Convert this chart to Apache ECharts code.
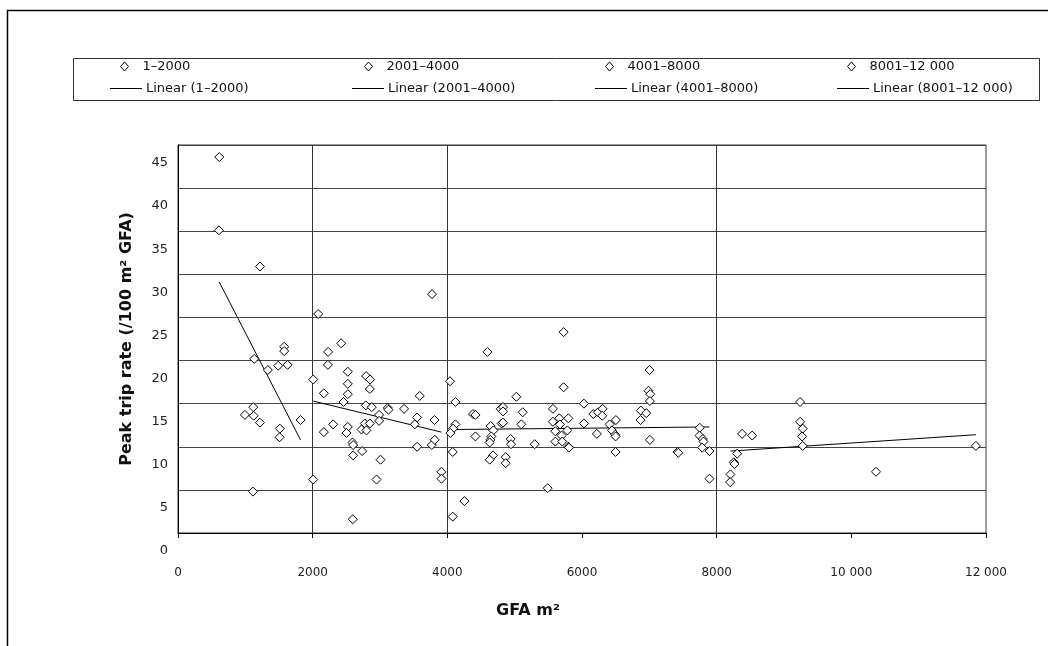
<!DOCTYPE html>
<html>
<head>
<meta charset="utf-8">
<script src="https://cdn.jsdelivr.net/npm/echarts@6/dist/echarts.min.js"></script>
<style>
html,body{margin:0;padding:0;background:#fff;}
#chart{width:1048px;height:646px;}
</style>
</head>
<body>
<div id="chart"></div>
<script>
// ---- data ----
const seriesNames = ['1–2000', '2001–4000', '4001–8000', '8001–12 000'];
const trendNames = ['Linear (1–2000)', 'Linear (2001–4000)', 'Linear (4001–8000)', 'Linear (8001–12 000)'];
const xTickLabels = ['0', '2000', '4000', '6000', '8000', '10 000', '12 000'];
const yTickLabels = ['0', '5', '10', '15', '20', '25', '30', '35', '40', '45'];
const verticalGridX = [2000, 4000, 8000];

const group1 = [[613,45.6],[608,37.1],[1217,32.9],[1132,22.2],[1577,23.6],[1577,23.1],[1335,20.9],[1488,21.4],[1627,21.5],[1117,16.6],[994,15.7],[1123,15.6],[1217,14.8],[1513,14.1],[1509,13.1],[1820,15.1],[1113,6.8]];
const group2 = [[2082,27.4],[3773,29.7],[2423,24.0],[2230,23.0],[2226,21.5],[2522,20.7],[2008,19.8],[2794,20.2],[2853,19.8],[2522,19.3],[2166,18.2],[2522,18.1],[2849,18.7],[3590,17.9],[2458,17.2],[2789,16.8],[2878,16.6],[3116,16.5],[3126,16.3],[3358,16.4],[2987,15.7],[2987,15.0],[3551,15.4],[3809,15.1],[3516,14.6],[2304,14.6],[2166,13.7],[2522,14.3],[2503,13.6],[2775,14.7],[2849,14.7],[2725,14.0],[2799,13.9],[2592,12.5],[2601,12.2],[2735,11.5],[2601,11.0],[3007,10.5],[3551,12.0],[3769,12.2],[3813,12.8],[2008,8.2],[2948,8.2],[3913,9.1],[3913,8.3],[2596,3.6]];
const group3 = [[4040,19.6],[4120,17.2],[4120,14.6],[4085,14.1],[4045,13.6],[4381,15.8],[4417,15.7],[4417,13.2],[4080,11.4],[4254,5.7],[4080,3.9],[4595,23.0],[4644,14.4],[4684,13.9],[4654,13.2],[4639,12.8],[4629,12.5],[4678,11.0],[4629,10.5],[4792,16.4],[4827,16.6],[4827,16.1],[4807,14.7],[4827,14.8],[4941,12.9],[4946,12.3],[4867,10.8],[4867,10.1],[5025,17.8],[5119,16.0],[5099,14.6],[5297,12.3],[5490,7.2],[5727,25.3],[5727,18.9],[5568,16.4],[5663,15.3],[5797,15.3],[5568,14.9],[5673,14.6],[5604,13.8],[5782,13.9],[5697,13.3],[5604,12.6],[5707,12.6],[5797,12.0],[5806,11.9],[6029,17.0],[6029,14.7],[6168,15.8],[6237,16.0],[6306,16.4],[6301,15.6],[6221,13.5],[6410,14.6],[6503,15.1],[6444,13.9],[6494,13.4],[6499,13.2],[6499,11.4],[7003,20.9],[6988,18.5],[7013,18.1],[7008,17.3],[6874,16.2],[6954,15.9],[6869,15.1],[7008,12.8],[7419,11.4],[7430,11.3],[7749,14.2],[7745,13.3],[7794,12.9],[7804,12.6],[7785,11.9],[7893,11.5],[7893,8.3]];
const group4 = [[8378,13.5],[8527,13.3],[8304,11.2],[8254,10.2],[8264,10.0],[8205,8.8],[8200,7.9],[9239,17.2],[9239,14.9],[9278,14.1],[9268,13.2],[9278,12.1],[10366,9.1],[11850,12.1]];

const trend1 = [[613,31.1],[1820,12.8]];
const trend2 = [[2008,17.3],[3913,13.7]];
const trend3 = [[4061,14.0],[7893,14.3]];
const trend4 = [[8205,11.5],[11850,13.4]];

// ---- chart ----
const FONT = 'Verdana, "DejaVu Sans", sans-serif';
const groups = [group1, group2, group3, group4];
const trends = [trend1, trend2, trend3, trend4];
const chart = echarts.init(document.getElementById('chart'), null, {renderer: 'canvas'});

const series = [];
groups.forEach((g, i) => {
  series.push({
    name: seriesNames[i], type: 'scatter', data: g,
    symbol: 'diamond', symbolSize: [9, 9],
    itemStyle: {color: '#ffffff', borderColor: '#000000', borderWidth: 1, opacity: 1},
    emphasis: {disabled: true}, z: 5
  });
});
trends.forEach((t, i) => {
  series.push({
    name: trendNames[i], type: 'line', data: t, symbol: 'none',
    lineStyle: {color: '#000000', width: 1}, itemStyle: {color: '#000000'},
    emphasis: {disabled: true}, z: 4
  });
});
series.push({
  type: 'line', data: [], silent: true,
  markLine: {
    silent: true, symbol: 'none', animation: false,
    label: {show: false},
    lineStyle: {color: '#333333', width: 1, type: 'solid'},
    data: verticalGridX.map(x => ({xAxis: x}))
  }
});

const rowScatterLeft = [120, 364, 605, 847];
const rowLineLeft = [110, 352, 595, 837];
const legends = [];
seriesNames.forEach((n, i) => {
  legends.push({
    data: [n], left: rowScatterLeft[i], top: 60, padding: 0,
    itemWidth: 8, itemHeight: 9, selectedMode: false,
    itemStyle: {color: '#ffffff', borderColor: '#000', borderWidth: 1},
    textStyle: {fontFamily: FONT, fontSize: 13, color: '#111', padding: [0, 0, 0, 9]}
  });
});
trendNames.forEach((n, i) => {
  legends.push({
    data: [{name: n, icon: 'rect'}], left: rowLineLeft[i], top: 82, padding: 0,
    itemWidth: 32, itemHeight: 1, itemGap: 0, selectedMode: false,
    itemStyle: {color: '#000'},
    textStyle: {fontFamily: FONT, fontSize: 13, color: '#111', padding: [0, 0, 0, -1]}
  });
});

chart.setOption({
  animation: false,
  backgroundColor: '#ffffff',
  legend: legends,
  graphic: [
    {type: 'polyline', shape: {points: [[7.5, 646], [7.5, 10.5], [1048, 10.5]]}, style: {stroke: '#000', lineWidth: 1.5, fill: null}, silent: true},
    {type: 'rect', shape: {x: 73.5, y: 58.5, width: 966, height: 42}, style: {stroke: '#333', lineWidth: 1, fill: null}, silent: true, z: -1}
  ],
  grid: [
    {left: 178, right: 62, top: 145, bottom: 113, show: true, borderColor: '#333', borderWidth: 1, backgroundColor: 'transparent'},
    // label-only grid: the tick labels of the reference sit ~2 units below the gridlines
    {left: 178, right: 62, top: 163, bottom: 95, show: false}
  ],
  xAxis: [{
    gridIndex: 0,
    type: 'value', min: 0, max: 12000, interval: 2000,
    name: 'GFA m²', nameLocation: 'middle', nameGap: 70,
    nameTextStyle: {fontFamily: FONT, fontSize: 16, fontWeight: 'bold', color: '#111', padding: [0, 108, 0, 0]},
    axisLine: {show: true, lineStyle: {color: '#000', width: 1}},
    axisTick: {show: true, length: 5, lineStyle: {color: '#000'}},
    axisLabel: {margin: 34, fontFamily: FONT, fontSize: 12, color: '#222', formatter: v => xTickLabels[Math.round(v / 2000)]},
    splitLine: {show: false}
  }, {
    gridIndex: 1, type: 'value', min: 0, max: 12000, show: false
  }],
  yAxis: [{
    gridIndex: 0,
    type: 'value', min: 2, max: 47, interval: 5,
    name: 'Peak trip rate (/100 m² GFA)', nameLocation: 'middle', nameRotate: 90, nameGap: 43,
    nameTextStyle: {fontFamily: FONT, fontSize: 16, fontWeight: 'bold', color: '#111'},
    axisLine: {show: true, lineStyle: {color: '#000', width: 1}},
    axisTick: {show: false},
    axisLabel: {show: false},
    splitLine: {show: true, lineStyle: {color: '#444', width: 1}}
  }, {
    gridIndex: 1,
    type: 'value', min: 0, max: 45, interval: 5,
    axisLine: {show: false}, axisTick: {show: false}, splitLine: {show: false},
    axisLabel: {margin: 10, fontFamily: FONT, fontSize: 13, color: '#222',
      formatter: v => yTickLabels[Math.round(v / 5)]}
  }],
  series: series
});
</script>
</body>
</html>
